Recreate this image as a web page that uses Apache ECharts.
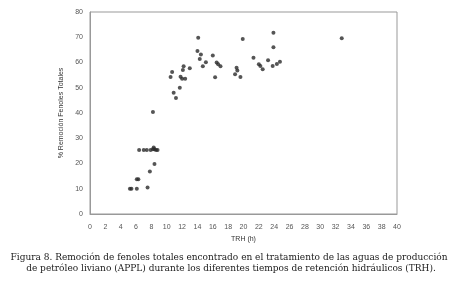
<!DOCTYPE html>
<html><head><meta charset="utf-8">
<script src="https://cdn.jsdelivr.net/npm/echarts@6/dist/echarts.min.js"></script>
<style>html,body{margin:0;padding:0;background:#fff}#c{width:472px;height:282px}</style>
</head><body><div id="c"></div>
<script>
const trh = [5.2,5.4,6.1,7.5,6.1,6.3,7.8,8.4,6.4,7.0,7.4,7.9,8.2,8.4,8.6,8.8,8.3,8.2,
  10.9,11.2,11.7,10.5,10.7,11.8,12.0,12.4,12.1,12.2,13.0,14.1,14.0,14.45,14.3,14.7,15.1,
  16.0,16.5,16.7,17.0,16.3,18.9,19.1,19.2,19.6,19.9,21.3,22.0,22.2,22.5,23.2,23.8,23.9,23.9,24.35,24.75,32.8];
const remocion = [10,10,10,10.5,13.8,13.8,16.8,19.8,25.3,25.3,25.3,25.3,25.6,25.6,25.3,25.3,26.3,40.4,
  48.0,45.9,50.0,54.3,56.2,54.4,53.6,53.6,57.0,58.5,57.7,69.8,64.6,63.2,61.4,58.5,60.1,
  62.8,60.0,59.3,58.5,54.2,55.3,57.9,56.8,54.3,69.3,61.9,59.3,58.6,57.3,60.9,58.6,71.8,66.0,59.4,60.3,69.6];
const xName = 'TRH (h)';
const yName = '% Remoción Fenoles Totales';
const caption = ['Figura 8. Remoción de fenoles totales encontrado en el tratamiento de las aguas de producción',
  'de petróleo liviano (APPL) durante los diferentes tiempos de retención hidráulicos (TRH).'];

const chart = echarts.init(document.getElementById('c'), null, {renderer:'canvas'});
const axisLbl = {color:'#555', fontSize:7, fontFamily:'Liberation Sans, Arial, sans-serif'};
chart.setOption({
  animation:false,
  grid:{left:90, right:75, top:12, bottom:68, show:true, borderColor:'#999', borderWidth:1},
  xAxis:{type:'value', min:0, max:40, interval:2,
    name:xName, nameLocation:'middle', nameGap:20,
    nameTextStyle:{color:'#333', fontSize:7, fontFamily:'Liberation Sans, Arial, sans-serif'},
    axisLine:{show:true, lineStyle:{color:'#999'}}, axisTick:{show:false},
    splitLine:{show:false}, axisLabel:Object.assign({margin:10}, axisLbl)},
  yAxis:{type:'value', min:0, max:80, interval:10,
    name:yName, nameLocation:'middle', nameGap:19, nameRotate:90,
    nameTextStyle:{color:'#333', fontSize:7, fontFamily:'Liberation Sans, Arial, sans-serif'},
    axisLine:{show:true, lineStyle:{color:'#999'}}, axisTick:{show:false},
    splitLine:{show:false}, axisLabel:Object.assign({margin:7}, axisLbl)},
  series:[{type:'scatter', symbol:'circle', symbolSize:4,
    itemStyle:{color:'#2a2a2a'},
    data: trh.map((x,i)=>[x, remocion[i]])}],
  graphic:[
    {type:'text', x:229, y:253, style:{text:caption[0], fill:'#1a1a1a', align:'center', font:'9px "DejaVu Serif", serif'}},
    {type:'text', x:231, y:264, style:{text:caption[1], fill:'#1a1a1a', align:'center', font:'9px "DejaVu Serif", serif'}}
  ]
});
</script></body></html>
